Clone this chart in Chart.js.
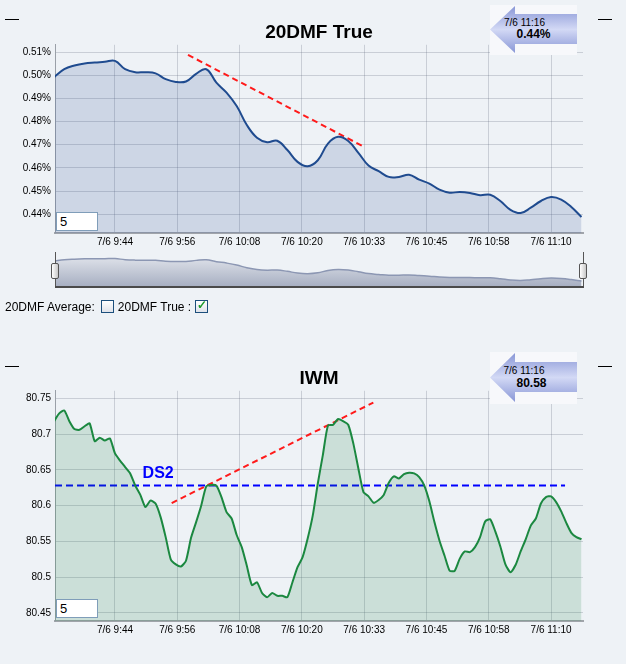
<!DOCTYPE html>
<html lang="en">
<head>
<meta charset="UTF-8">
<title>20DMF True / IWM</title>
<script src="https://cdn.jsdelivr.net/npm/chart.js@4.4.1/dist/chart.umd.min.js"></script>
<style>
    body { margin: 0; background: #eef2f6; font-family: 'Liberation Sans', Arial, sans-serif; }
    #page { position: relative; width: 626px; height: 664px; overflow: hidden; background: #eef2f6; }
    canvas { position: absolute; left: 0; }
    .abs { position: absolute; }
    .dash { position: absolute; width: 14px; height: 1px; background: #000; }
    .box5 { position: absolute; left: 56px; background: #fff; border: 1px solid #7f9db9; font-size: 13px; line-height: 17px; padding-left: 3px; box-sizing: border-box; width: 42px; height: 19px; }
    .vline { position: absolute; width: 1px; background: #555; }
    .handle { position: absolute; width: 6px; height: 14px; border: 1px solid #555; border-radius: 2px; background: linear-gradient(to right, #fff, #c8c8c8); }
    .legend { position: absolute; left: 5px; top: 300px; font-size: 12px; line-height: 14px; color: #000; white-space: nowrap; }
    .cb { display: inline-block; width: 11px; height: 11px; border: 1px solid #1c4f7c; vertical-align: -2px; background: linear-gradient(#fff, #dfe3ea); position: relative; margin: 0 4px 0 6px; }
    .cb span { position: absolute; left: 1px; top: -3px; color: #1a9a2a; font-size: 12px; font-weight: bold; }
</style>
</head>
<body>
<div id="page">
    <div class="dash" style="left:5px; top:19px"></div>
    <div class="dash" style="left:598px; top:19px"></div>
    <div class="dash" style="left:5px; top:366px"></div>
    <div class="dash" style="left:598px; top:366px"></div>

    <canvas id="dmfChart" width="626" height="255" style="top:0"></canvas>
    <canvas id="navChart" width="626" height="40" style="top:250px"></canvas>
    <canvas id="iwmChart" width="626" height="300" style="top:346px"></canvas>

    <div class="vline" style="left:55px; top:252px; height:35px"></div>
    <div class="vline" style="left:583px; top:252px; height:35px"></div>
    <div class="abs" style="left:55px; top:286px; width:529px; height:2px; background:#4a4a4a"></div>
    <div class="handle" style="left:51px; top:263px"></div>
    <div class="handle" style="left:579px; top:263px"></div>

    <div class="legend">20DMF Average:<span class="cb"></span>20DMF True :<span class="cb" style="margin-left:4px"><span>&#10003;</span></span></div>

    <div class="box5" style="top:212px">5</div>
    <div class="box5" style="top:599px">5</div>

    <svg class="abs" style="left:488px; top:4px" width="92" height="52">
        <defs>
            <linearGradient id="arrowFill" x1="0" y1="0" x2="0" y2="1">
                <stop offset="0" stop-color="#8896d6"/>
                <stop offset="0.5" stop-color="#d3d9f5"/>
                <stop offset="1" stop-color="#8896d6"/>
            </linearGradient>
        </defs>
        <rect x="2" y="1" width="87" height="50" fill="#f7f8fb"/>
        <polygon points="2,25.5 27,2 27,10 89,10 89,40 27,40 27,49" fill="url(#arrowFill)"/>
        <text x="36.5" y="22" font-family="Liberation Sans" font-size="10" text-anchor="middle" fill="#000">7/6 11:16</text>
        <text x="45.5" y="34" font-family="Liberation Sans" font-size="12" font-weight="bold" text-anchor="middle" fill="#000">0.44%</text>
    </svg>
    <svg class="abs" style="left:488px; top:351px" width="92" height="54">
        <rect x="2" y="1" width="87" height="52" fill="#f7f8fb"/>
        <polygon points="2,26.5 27,2 27,11 89,11 89,41 27,41 27,51" fill="url(#arrowFill)"/>
        <text x="36" y="23" font-family="Liberation Sans" font-size="10" text-anchor="middle" fill="#000">7/6 11:16</text>
        <text x="43.5" y="35.5" font-family="Liberation Sans" font-size="12" font-weight="bold" text-anchor="middle" fill="#000">80.58</text>
    </svg>
</div>

<script>
    // x positions are minutes from 9:44 (gridlines evenly spaced)
    const xMin = -11.83, xMax = 92.3;
    const xTickValues = [0, 12.29, 24.57, 36.86, 49.14, 61.43, 73.71, 86];
    const xTickLabels = ['7/6 9:44', '7/6 9:56', '7/6 10:08', '7/6 10:20', '7/6 10:33', '7/6 10:45', '7/6 10:58', '7/6 11:10'];

    // 20DMF True, one value every 2 minutes from 9:32
    const dmfStart = -12, dmfStep = 2;
    const dmfTrue = [
        0.4992, 0.5026, 0.5042, 0.5051, 0.5055, 0.5058, 0.5062, 0.5026, 0.5013, 0.5013,
        0.5008, 0.4983, 0.4971, 0.4973, 0.5006, 0.5026, 0.4968, 0.4925, 0.4867, 0.4785,
        0.4730, 0.4711, 0.4717, 0.4677, 0.4626, 0.4607, 0.4633, 0.4705, 0.4734, 0.4716,
        0.4665, 0.4610, 0.4586, 0.4561, 0.4561, 0.4570, 0.4549, 0.4532, 0.4506, 0.4493,
        0.4496, 0.4492, 0.4482, 0.4484, 0.4457, 0.4419, 0.4405, 0.4428, 0.4457, 0.4474,
        0.4463, 0.4431, 0.4388
    ];
    const dmfTicks = [0.44, 0.45, 0.46, 0.47, 0.48, 0.49, 0.50, 0.51];
    const dmfTrend = [[14.4, 0.5088], [49.1, 0.4691]];

    // IWM, one value every minute from 9:32
    const iwmStart = -12, iwmStep = 1;
    const iwm = [
        80.718, 80.729, 80.733, 80.718, 80.707, 80.706, 80.711, 80.715, 80.690, 80.695,
        80.691, 80.694, 80.673, 80.663, 80.654, 80.645, 80.628, 80.615, 80.598, 80.607,
        80.603, 80.584, 80.556, 80.525, 80.518, 80.515, 80.523, 80.555, 80.577, 80.600,
        80.627, 80.629, 80.628, 80.612, 80.591, 80.582, 80.559, 80.542, 80.516, 80.489,
        80.493, 80.478, 80.472, 80.478, 80.474, 80.474, 80.472, 80.493, 80.514, 80.528,
        80.554, 80.586, 80.631, 80.671, 80.712, 80.713, 80.721, 80.718, 80.713, 80.687,
        80.652, 80.619, 80.613, 80.604, 80.608, 80.615, 80.632, 80.641, 80.638, 80.644,
        80.646, 80.645, 80.640, 80.628, 80.606, 80.577, 80.551, 80.530, 80.509, 80.509,
        80.526, 80.536, 80.535, 80.542, 80.556, 80.578, 80.581, 80.564, 80.543, 80.518,
        80.507, 80.517, 80.536, 80.553, 80.572, 80.582, 80.603, 80.612, 80.613, 80.605,
        80.592, 80.576, 80.562, 80.556, 80.553
    ];
    const iwmTicks = [80.45, 80.5, 80.55, 80.6, 80.65, 80.7, 80.75];
    const iwmTrend = [[11.18, 80.6036], [50.95, 80.744]];
    const ds2Line = [[xMin, 80.628], [88.76, 80.628]];
    const ds2LabelAt = [5.45, 80.6446];

    const tickFont = { family: 'Liberation Sans', size: 10 };
    const gridColor = 'rgba(90, 100, 120, 0.25)';

    function toPoints(values, start, step) {
        return values.map((v, i) => ({ x: start + i * step, y: v }));
    }
    function pairs(list) {
        return list.map(p => ({ x: p[0], y: p[1] }));
    }

    function xAxis(height) {
        return {
            type: 'linear', min: xMin, max: xMax,
            afterBuildTicks: s => { s.ticks = xTickValues.map(v => ({ value: v })); },
            afterFit: s => { s.height = height; },
            ticks: { autoSkip: false, maxRotation: 0, padding: 3, color: '#000', font: tickFont,
                callback: (v, i) => xTickLabels[i] },
            grid: { color: gridColor, drawTicks: false },
            border: { color: '#a0a4aa', width: 2 }
        };
    }
    function yAxis(min, max, ticks, fmt) {
        return {
            min: min, max: max,
            afterBuildTicks: s => { s.ticks = ticks.map(v => ({ value: v })); },
            afterFit: s => { s.width = 55; },
            ticks: { padding: 4, color: '#000', font: tickFont, callback: fmt },
            grid: { color: gridColor, drawTicks: false },
            border: { color: '#9aa0a8', width: 1 }
        };
    }
    function titleOpts(text) {
        return { display: true, text: text, fullSize: false, color: '#000',
            font: { family: 'Liberation Sans', size: 19, weight: 'bold' },
            padding: { top: 21, bottom: 1 } };
    }
    function trendSet(points, color, dash) {
        return { data: points, borderColor: color, borderWidth: 2, borderDash: dash,
            pointRadius: 0, fill: false, tension: 0 };
    }

    const ds2Label = {
        id: 'ds2Label',
        afterDatasetsDraw(chart) {
            const { ctx, scales: { x, y } } = chart;
            ctx.save();
            ctx.font = 'bold 16px "Liberation Sans"';
            ctx.fillStyle = '#0000ff';
            ctx.textBaseline = 'middle';
            ctx.fillText('DS2', x.getPixelForValue(ds2LabelAt[0]), y.getPixelForValue(ds2LabelAt[1]));
            ctx.restore();
        }
    };

    new Chart(document.getElementById('dmfChart'), {
        type: 'line',
        data: {
            datasets: [
                { data: toPoints(dmfTrue, dmfStart, dmfStep), borderColor: '#1f4b8f', borderWidth: 2,
                  backgroundColor: 'rgba(40, 80, 150, 0.17)', fill: 'start', pointRadius: 0, tension: 0.4 },
                trendSet(pairs(dmfTrend), '#ff1a1a', [6, 4])
            ]
        },
        options: {
            responsive: false, animation: false, events: [],
            layout: { padding: { left: 0, right: 43, top: 0, bottom: 0 } },
            scales: {
                x: xAxis(22),
                y: yAxis(0.43188, 0.51315, dmfTicks, v => v.toFixed(2) + '%')
            },
            plugins: { legend: { display: false }, tooltip: { enabled: false }, title: titleOpts('20DMF True') }
        }
    });

    new Chart(document.getElementById('navChart'), {
        type: 'line',
        data: {
            datasets: [{
                data: toPoints(dmfTrue, dmfStart, dmfStep), borderColor: '#8c97b3', borderWidth: 1.5,
                fill: 'start', pointRadius: 0, tension: 0.4,
                backgroundColor: ctx => {
                    const a = ctx.chart.chartArea;
                    if (!a) return '#c4cad6';
                    const g = ctx.chart.ctx.createLinearGradient(0, a.top, 0, a.bottom);
                    g.addColorStop(0, '#e6e9ef');
                    g.addColorStop(1, '#a6aec1');
                    return g;
                }
            }]
        },
        options: {
            responsive: false, animation: false, events: [],
            layout: { padding: { left: 55, right: 43, top: 3, bottom: 3 } },
            scales: {
                x: { type: 'linear', min: xMin, max: xMax, display: false },
                y: { min: 0.4208, max: 0.5227, display: false }
            },
            plugins: { legend: { display: false }, tooltip: { enabled: false } }
        }
    });

    new Chart(document.getElementById('iwmChart'), {
        type: 'line',
        data: {
            datasets: [
                { data: toPoints(iwm, iwmStart, iwmStep), borderColor: '#1b8840', borderWidth: 2,
                  backgroundColor: 'rgba(30, 130, 70, 0.17)', fill: 'start', pointRadius: 0, tension: 0.2 },
                trendSet(pairs(iwmTrend), '#ff1a1a', [6, 4]),
                trendSet(pairs(ds2Line), '#0000ff', [7, 4])
            ]
        },
        options: {
            responsive: false, animation: false, events: [],
            layout: { padding: { left: 0, right: 43, top: 0, bottom: 0 } },
            scales: {
                x: xAxis(25),
                y: yAxis(80.4388, 80.7605, iwmTicks, v => String(parseFloat(v.toFixed(2))))
            },
            plugins: { legend: { display: false }, tooltip: { enabled: false }, title: titleOpts('IWM') }
        },
        plugins: [ds2Label]
    });
</script>
</body>
</html>
